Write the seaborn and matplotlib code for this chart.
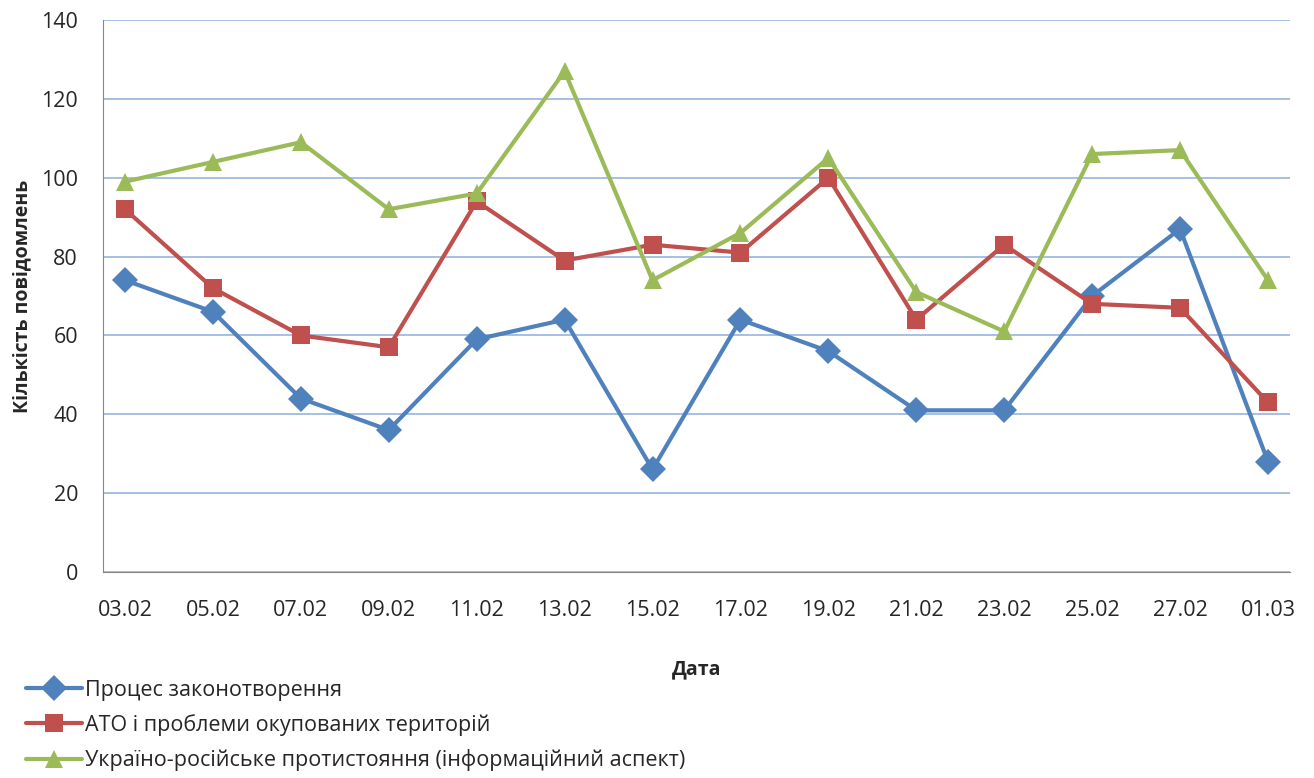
import pandas as pd
import matplotlib.pyplot as plt
import seaborn as sns

# Data
dates = ["03.02", "05.02", "07.02", "09.02", "11.02", "13.02", "15.02",
         "17.02", "19.02", "21.02", "23.02", "25.02", "27.02", "01.03"]
law = [74, 66, 44, 36, 59, 64, 26, 64, 56, 41, 41, 70, 87, 28]
ato = [92, 72, 60, 57, 94, 79, 83, 81, 100, 64, 83, 68, 67, 43]
info = [99, 104, 109, 92, 96, 127, 74, 86, 105, 71, 61, 106, 107, 74]
names = ["Процес законотворення",
         "АТО і проблеми окупованих територій",
         "Україно-російське протистояння (інформаційний аспект)"]

df = pd.DataFrame({"pos": list(range(len(dates))) * 3,
                   "value": law + ato + info,
                   "series": [names[0]] * len(dates) + [names[1]] * len(dates) + [names[2]] * len(dates)})

sns.set_style("white")
plt.rcParams["font.family"] = ["Open Sans", "DejaVu Sans"]

fig = plt.figure(figsize=(13.14, 7.78), dpi=100)
ax = fig.add_axes([0.0784, 0.2648, 0.9033, 0.7095])

colors = ["#4F81BD", "#C0504D", "#9BBB59"]
sns.lineplot(data=df, x="pos", y="value", hue="series", style="series",
             palette=colors, markers=["D", "s", "^"], dashes=False,
             linewidth=3, markersize=13, markeredgewidth=0, ax=ax)

ax.set_xlim(-0.25, len(dates) - 0.75)
ax.set_ylim(0, 140)
ax.set_yticks(range(0, 141, 20))
ax.set_xticks(range(len(dates)))
ax.set_xticklabels(dates)
ax.grid(axis="y", color="#9DBAE4", linewidth=1.3)
ax.set_axisbelow(True)

for s in ["top", "right"]:
    ax.spines[s].set_visible(False)
ax.spines["left"].set_color("#888888")
ax.spines["bottom"].set_color("#888888")
ax.tick_params(axis="y", length=6, color="#888888", labelsize=15.5, pad=12)
ax.tick_params(axis="x", length=0, labelsize=15.5, pad=20)

ax.set_xlabel("Дата", fontsize=14, fontweight="bold", labelpad=28)
ax.set_ylabel("Кількість повідомлень", fontsize=14, fontweight="bold", labelpad=6)

handles, labels = ax.get_legend_handles_labels()
ax.legend_.remove()
fig.legend(handles, labels, loc="lower left", bbox_to_anchor=(0.005, -0.016),
           frameon=False, fontsize=15.5, handlelength=2.6, handletextpad=0.12,
           labelspacing=0.62)

fig.savefig("out.png", dpi=100)
